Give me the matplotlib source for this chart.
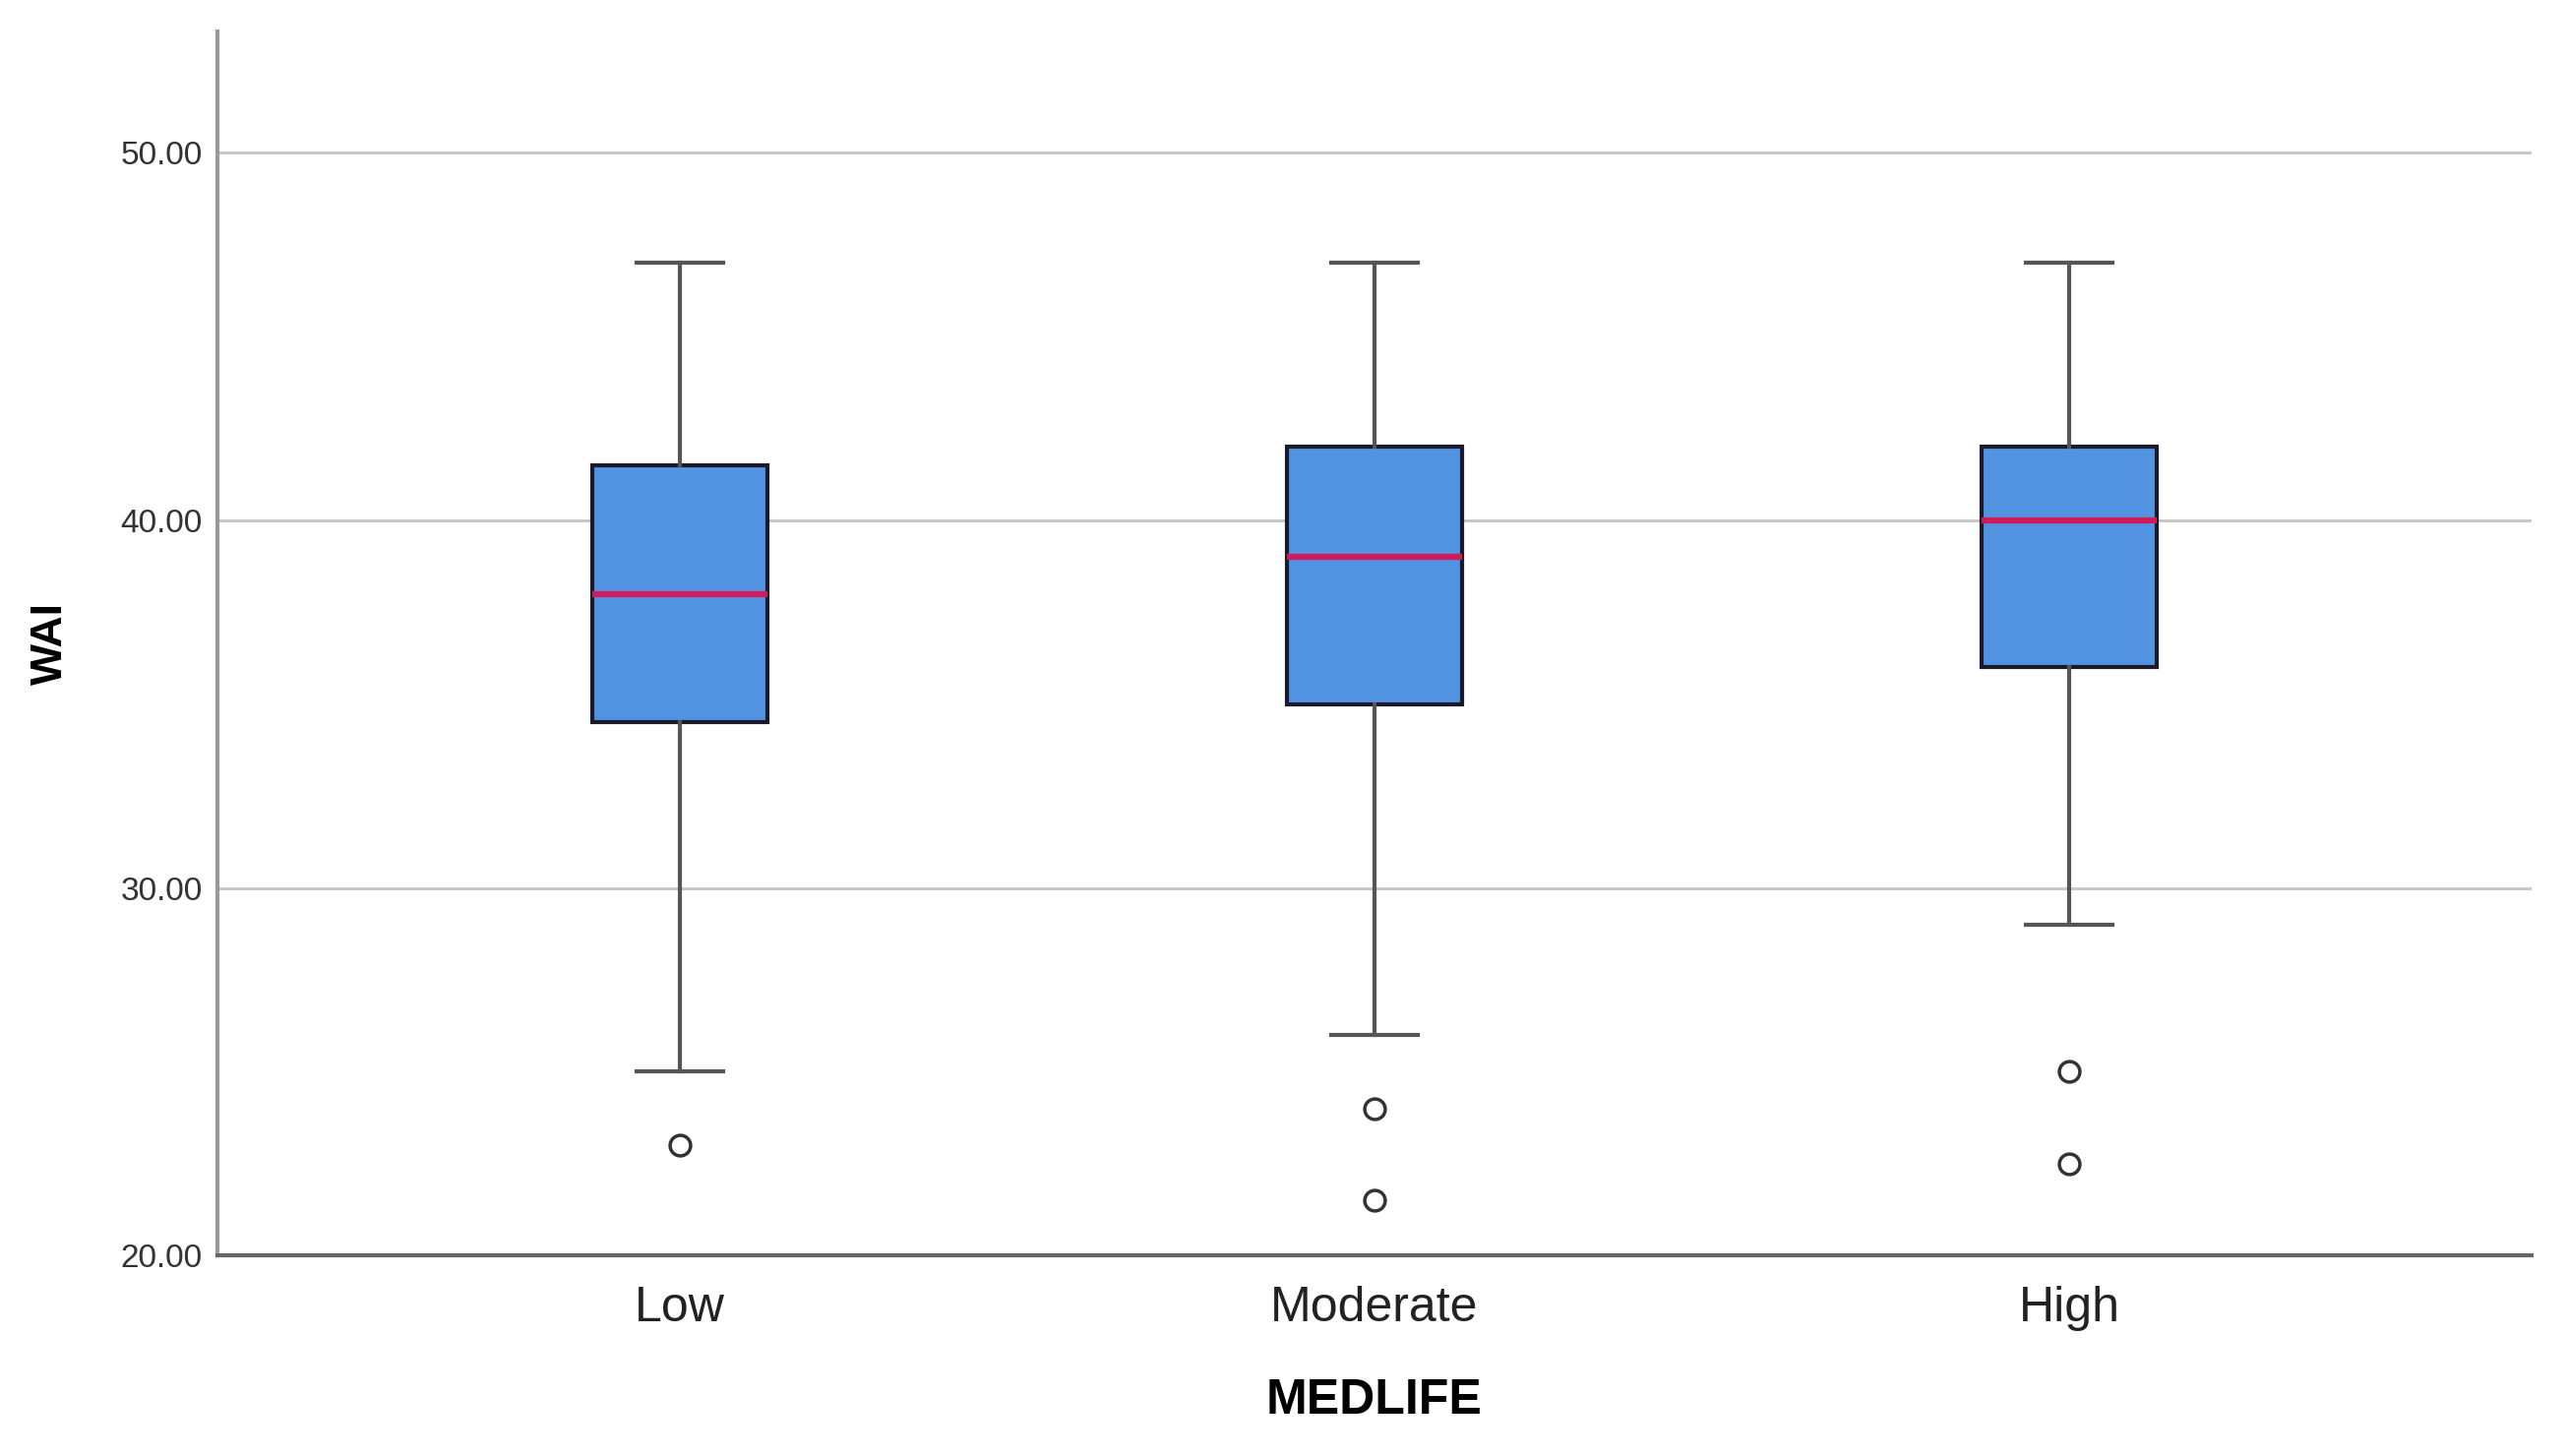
import matplotlib.pyplot as plt

plt.rcParams['font.family'] = ['Liberation Sans', 'DejaVu Sans']

groups = ["Low", "Moderate", "High"]
whisker_low = [25, 26, 29]
q1 = [34.5, 35, 36]
median = [38, 39, 40]
q3 = [41.5, 42, 42]
whisker_high = [47, 47, 47]
outliers = [[23], [24, 21.5], [25, 22.5]]

# stats for bxp, one dict per group
stats = []
for i, g in enumerate(groups):
    stats.append({"label": g, "whislo": whisker_low[i], "q1": q1[i], "med": median[i],
                  "q3": q3[i], "whishi": whisker_high[i], "fliers": outliers[i]})

fig = plt.figure(figsize=(26.09, 14.8), dpi=100)
ax = fig.add_axes([0.0847, 0.1378, 0.9015, 0.8405])

ax.bxp(stats, positions=range(len(groups)), widths=0.252, patch_artist=True,
       boxprops=dict(facecolor="#5294E2", edgecolor="#1a1a2a", linewidth=3),
       medianprops=dict(color="#D2195A", linewidth=4.5),
       whiskerprops=dict(color="#555555", linewidth=3),
       capprops=dict(color="#555555", linewidth=3),
       capwidths=0.125,
       flierprops=dict(marker="o", markersize=15, markerfacecolor="white",
                       markeredgecolor="#333333", markeredgewidth=2.5))

ax.set_xlim(-0.665, 2.665)
ax.set_ylim(20, 53.3)
ax.set_yticks([20, 30, 40, 50])
ax.set_yticklabels(["20.00", "30.00", "40.00", "50.00"])
for y in [30, 40, 50]:
    ax.axhline(y, color="#c8c8c8", linewidth=2.2, zorder=0)

ax.spines["top"].set_visible(False)
ax.spines["right"].set_visible(False)
ax.spines["left"].set_color("#999999")
ax.spines["left"].set_linewidth(3)
ax.spines["bottom"].set_color("#666666")
ax.spines["bottom"].set_linewidth(3)

ax.tick_params(axis="y", length=0, pad=11, labelsize=24, labelcolor="#333333")
ax.tick_params(axis="x", length=0, pad=22, labelsize=36, labelcolor="#222222")

ax.set_xlabel("MEDLIFE", fontsize=36, fontweight="bold")
ax.set_ylabel("WAI", fontsize=32, fontweight="bold")
ax.xaxis.set_label_coords(0.5, -0.1186)
ax.xaxis.label.set_va("center")
ax.yaxis.set_label_coords(-0.0719, 0.5)
ax.yaxis.label.set_va("center")

fig.savefig("out.png", dpi=100)
